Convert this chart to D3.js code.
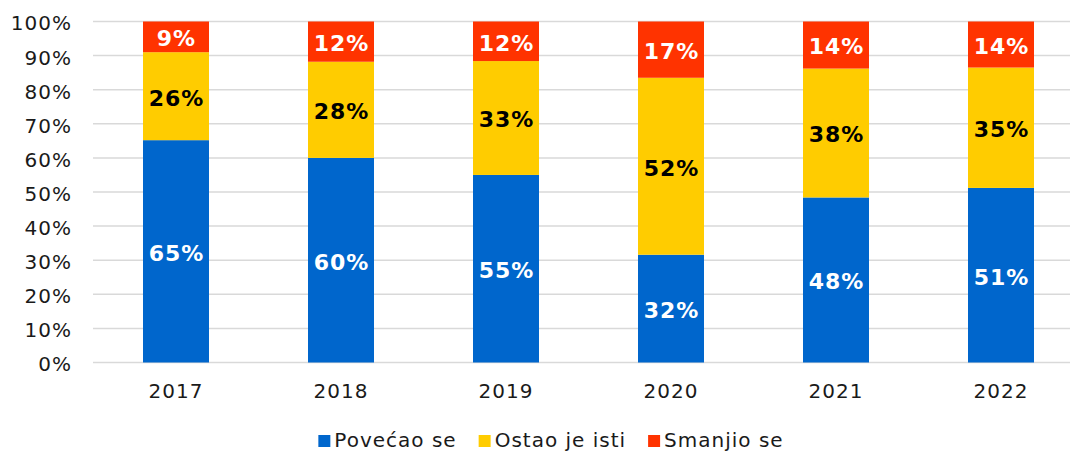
<!DOCTYPE html>
<html>
<head>
<meta charset="utf-8">
<script src="https://d3js.org/d3.v7.min.js"></script>
<style>
    body{
        margin: 0;
        background: #ffffff;
    }
    text{
        font-family: "DejaVu Sans", Verdana, sans-serif;
    }
</style>
</head>
<body>
<div id="chart"></div>
<script>
    // data (share of answers, %)
    const years = ["2017", "2018", "2019", "2020", "2021", "2022"];
    const povecao = [65.2, 60.0, 55.0, 31.6, 48.4, 51.2];
    const ostao = [25.8, 28.2, 33.4, 51.9, 37.8, 35.3];
    const smanjio = [9.0, 11.8, 11.6, 16.5, 13.8, 13.5];
    const seriesNames = ["Povećao se", "Ostao je isti", "Smanjio se"];
    const yTicks = [0, 10, 20, 30, 40, 50, 60, 70, 80, 90, 100];

    const colors = ["#0066CC", "#FFCC00", "#FF3300"];
    const labelColors = ["#ffffff", "#000000", "#ffffff"];

    const width = 1072, height = 452;
    const svg = d3.select("#chart").append("svg")
        .attr("width", width)
        .attr("height", height);

    let x = d3.scaleBand()
        .domain(years)
        .range([93.5, 1083.5])
        .paddingInner(0.6)
        .paddingOuter(0.3);

    let y = d3.scaleLinear()
        .domain([0, 100])
        .range([362.5, 21.5]);

    // gridlines
    svg.append("g").selectAll("line")
        .data(yTicks)
        .enter().append("line")
        .attr("x1", 93)
        .attr("x2", 1070)
        .attr("y1", d => y(d))
        .attr("y2", d => y(d))
        .attr("stroke", "#d9d9d9")
        .attr("stroke-width", 1.5);

    // y axis labels
    let yAxis = svg.append("g")
        .attr("transform", "translate(93,0)")
        .call(d3.axisLeft(y).tickValues(yTicks).tickSize(0).tickPadding(21).tickFormat(d => d + "%"));
    yAxis.select(".domain").remove();
    yAxis.selectAll("text")
        .attr("font-family", "DejaVu Sans, Verdana, sans-serif")
        .attr("font-size", "20px")
        .attr("letter-spacing", "1px")
        .attr("fill", "#1a1a1a")
        .attr("dy", "0.42em");

    // x axis labels
    let xAxis = svg.append("g")
        .attr("transform", "translate(0,362.5)")
        .call(d3.axisBottom(x).tickSize(0).tickPadding(21));
    xAxis.select(".domain").remove();
    xAxis.selectAll("text")
        .attr("font-family", "DejaVu Sans, Verdana, sans-serif")
        .attr("font-size", "20px")
        .attr("letter-spacing", "1px")
        .attr("fill", "#1a1a1a");

    // stack
    let rows = years.map((yr, i) => ({year: yr, s0: povecao[i], s1: ostao[i], s2: smanjio[i]}));
    let stack = d3.stack().keys(["s0", "s1", "s2"]);
    let layers = stack(rows);

    let groups = svg.selectAll(".layer")
        .data(layers)
        .enter().append("g")
        .attr("class", "layer");

    groups.selectAll("rect")
        .data(d => d)
        .enter().append("rect")
        .attr("x", d => x(d.data.year))
        .attr("width", x.bandwidth())
        .attr("y", d => y(d[1]))
        .attr("height", d => y(d[0]) - y(d[1]))
        .attr("fill", function() { return colors[d3.select(this.parentNode).datum().index]; });

    // value labels
    groups.each(function(layer) {
        d3.select(this).selectAll("text")
            .data(layer)
            .enter().append("text")
            .attr("x", d => x(d.data.year) + x.bandwidth() / 2 + 0.5)
            .attr("y", d => (y(d[0]) + y(d[1])) / 2 + 1.5)
            .attr("dy", "0.36em")
            .attr("text-anchor", "middle")
            .attr("font-size", "22px")
            .attr("font-weight", "bold")
            .attr("letter-spacing", "1px")
            .attr("fill", labelColors[layer.index])
            .text(d => Math.round(d[1] - d[0]) + "%");
    });

    // legend
    let legend = svg.append("g");
    let lx = 0;
    const gap = 22;
    seriesNames.forEach((name, i) => {
        let item = legend.append("g").attr("transform", `translate(${lx},0)`);
        item.append("rect")
            .attr("x", 0)
            .attr("y", 435)
            .attr("width", 12)
            .attr("height", 12)
            .attr("fill", colors[i]);
        let t = item.append("text")
            .attr("x", 16)
            .attr("y", 447)
            .attr("font-size", "20px")
            .attr("letter-spacing", "1px")
            .attr("fill", "#1a1a1a")
            .text(name);
        lx += 16 + t.node().getComputedTextLength() + gap;
    });
    let lw = lx - gap;
    legend.attr("transform", `translate(${551 - lw / 2},0)`);
</script>
</body>
</html>
